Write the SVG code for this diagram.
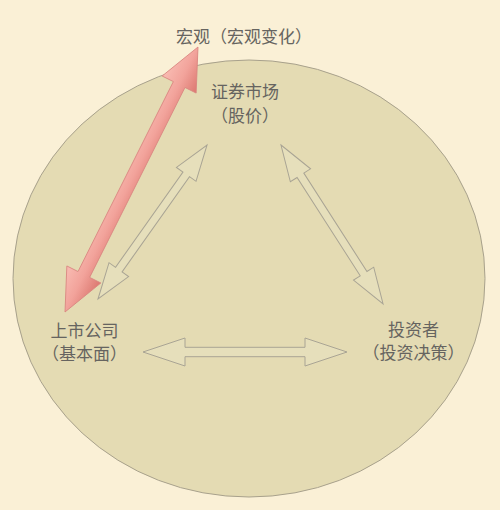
<svg xmlns="http://www.w3.org/2000/svg" width="500" height="510" viewBox="0 0 500 510">
  <style>
    .lbl { font-family: "Noto Sans CJK SC", "Noto Sans", sans-serif; font-size: 17px; fill: #666460; text-anchor: middle; }
    .garrow { fill: #e6dfbb; stroke: #a9a494; stroke-width: 1; stroke-linejoin: miter; }
    .rarrow { fill: url(#redgrad); stroke: #d98680; stroke-width: 0.8; }
  </style>
  <defs>
    <linearGradient id="redgrad" gradientUnits="userSpaceOnUse" x1="0" y1="-19" x2="0" y2="19">
      <stop offset="0" stop-color="#f9bcb3"/>
      <stop offset="0.5" stop-color="#f2a39b"/>
      <stop offset="1" stop-color="#dc7870"/>
    </linearGradient>
  </defs>
  <rect x="0" y="0" width="500" height="510" fill="#faf0d6"/>
  <g id="market-area">
    <ellipse cx="249" cy="278.5" rx="236" ry="218.5" fill="#e4dbb3" stroke="#a8a18c" stroke-width="1"/>
  </g>
  <g id="connectors">
    <!-- red: 上市公司 <-> 宏观 -->
    <polygon class="rarrow" transform="translate(65,312) rotate(-63.35)"
      points="0,0 42,-19 42,-6.5 254.5,-6.5 254.5,-19 296.5,0 254.5,19 254.5,6.5 42,6.5 42,19"/>
    <!-- 上市公司 <-> 证券市场 -->
    <polygon class="garrow" transform="translate(98,299) rotate(-54.7)"
      points="0,0 36,-12 36,-4 152.7,-4 152.7,-12 188.7,0 152.7,12 152.7,4 36,4 36,12"/>
    <!-- 证券市场 <-> 投资者 -->
    <polygon class="garrow" transform="translate(281,145) rotate(57.3)"
      points="0,0 36,-12 36,-4 152.9,-4 152.9,-12 188.9,0 152.9,12 152.9,4 36,4 36,12"/>
    <!-- 上市公司 <-> 投资者 -->
    <polygon class="garrow" transform="translate(143,352)"
      points="0,0 42,-14 42,-4.7 162,-4.7 162,-14 204,0 162,14 162,4.7 42,4.7 42,14"/>
  </g>
  <g id="node-macro">
    <text class="lbl" x="244" y="43">宏观（宏观变化）</text>
  </g>
  <g id="node-market">
    <text class="lbl" x="245" y="98">证券市场</text>
    <text class="lbl" x="245" y="122">（股价）</text>
  </g>
  <g id="node-company">
    <text class="lbl" x="84.5" y="336.5">上市公司</text>
    <text class="lbl" x="84.5" y="359.5">（基本面）</text>
  </g>
  <g id="node-investor">
    <text class="lbl" x="413.5" y="335.5">投资者</text>
    <text class="lbl" x="413.5" y="358.5">（投资决策）</text>
  </g>
</svg>
